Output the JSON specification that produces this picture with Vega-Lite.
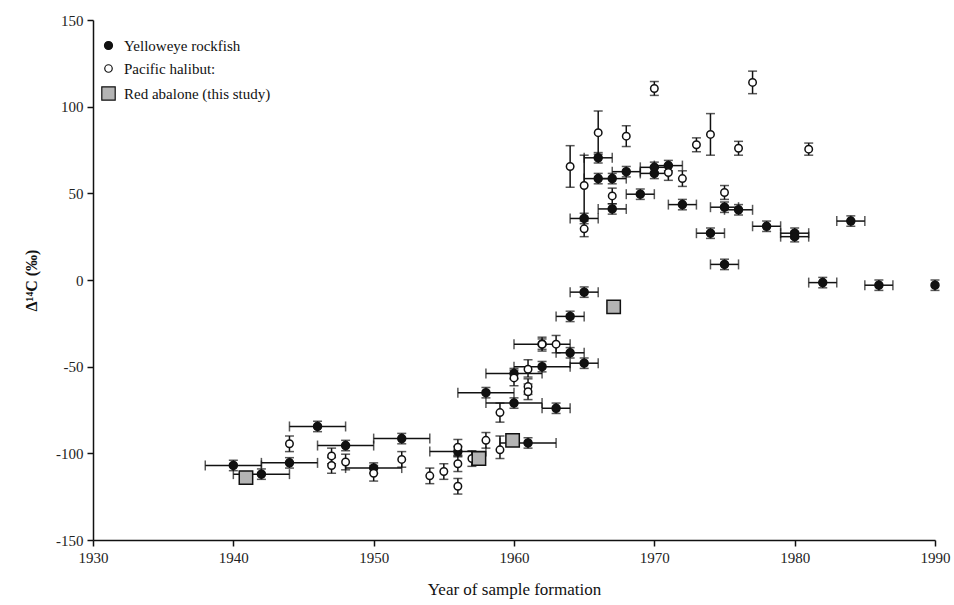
{
  "$schema": "https://vega.github.io/schema/vega-lite/v6.json",
  "width": 842,
  "height": 520,
  "autosize": "none",
  "padding": {"left": 93, "top": 20, "right": 19, "bottom": 65},
  "background": "white",
  "config": {
    "view": {"stroke": null},
    "font": "Liberation Serif",
    "axis": {"grid": false, "labelFlush": false, "labelOverlap": false, "domainColor": "#111", "domainWidth": 1.5, "tickColor": "#111", "tickWidth": 1.5, "tickSize": 6, "labelFont": "Liberation Serif", "labelFontSize": 15, "labelColor": "#222", "titleFont": "Liberation Serif", "titleColor": "#111"}
  },
  "datasets": {
    "pts": [
      {"s": "Yelloweye rockfish", "yr": 1940, "v": -107, "xlo": 1938, "xhi": 1942, "ylo": -110, "yhi": -104},
      {"s": "Yelloweye rockfish", "yr": 1942, "v": -112, "xlo": 1940, "xhi": 1944, "ylo": -115, "yhi": -109},
      {"s": "Yelloweye rockfish", "yr": 1944, "v": -105.5, "xlo": 1942, "xhi": 1946, "ylo": -108.5, "yhi": -102.5},
      {"s": "Yelloweye rockfish", "yr": 1946, "v": -84.5, "xlo": 1944, "xhi": 1948, "ylo": -87.5, "yhi": -81.5},
      {"s": "Yelloweye rockfish", "yr": 1948, "v": -95.5, "xlo": 1946, "xhi": 1950, "ylo": -98.5, "yhi": -92.5},
      {"s": "Yelloweye rockfish", "yr": 1950, "v": -108.5, "xlo": 1948, "xhi": 1952, "ylo": -111.5, "yhi": -105.5},
      {"s": "Yelloweye rockfish", "yr": 1952, "v": -91.5, "xlo": 1950, "xhi": 1954, "ylo": -94.5, "yhi": -88.5},
      {"s": "Yelloweye rockfish", "yr": 1956, "v": -99, "xlo": 1954, "xhi": 1958, "ylo": -102, "yhi": -96},
      {"s": "Yelloweye rockfish", "yr": 1958, "v": -65, "xlo": 1956, "xhi": 1960, "ylo": -68, "yhi": -62},
      {"s": "Yelloweye rockfish", "yr": 1960, "v": -71, "xlo": 1958, "xhi": 1962, "ylo": -74, "yhi": -68},
      {"s": "Yelloweye rockfish", "yr": 1960, "v": -54, "xlo": 1958, "xhi": 1962, "ylo": -57, "yhi": -51},
      {"s": "Yelloweye rockfish", "yr": 1961, "v": -94, "xlo": 1959, "xhi": 1963, "ylo": -97, "yhi": -91},
      {"s": "Yelloweye rockfish", "yr": 1962, "v": -50, "xlo": 1960, "xhi": 1964, "ylo": -53, "yhi": -47},
      {"s": "Yelloweye rockfish", "yr": 1962, "v": -37, "xlo": 1960, "xhi": 1964, "ylo": -40, "yhi": -34},
      {"s": "Yelloweye rockfish", "yr": 1963, "v": -74, "xlo": 1962, "xhi": 1964, "ylo": -77, "yhi": -71},
      {"s": "Yelloweye rockfish", "yr": 1964, "v": -42, "xlo": 1963, "xhi": 1965, "ylo": -45, "yhi": -39},
      {"s": "Yelloweye rockfish", "yr": 1965, "v": -48, "xlo": 1964, "xhi": 1966, "ylo": -51, "yhi": -45},
      {"s": "Yelloweye rockfish", "yr": 1964, "v": -21, "xlo": 1963, "xhi": 1965, "ylo": -24, "yhi": -18},
      {"s": "Yelloweye rockfish", "yr": 1965, "v": -7, "xlo": 1964, "xhi": 1966, "ylo": -10, "yhi": -4},
      {"s": "Yelloweye rockfish", "yr": 1965, "v": 35.5, "xlo": 1964, "xhi": 1966, "ylo": 32.5, "yhi": 38.5},
      {"s": "Yelloweye rockfish", "yr": 1966, "v": 70.5, "xlo": 1965, "xhi": 1967, "ylo": 67.5, "yhi": 73.5},
      {"s": "Yelloweye rockfish", "yr": 1966, "v": 58.5, "xlo": 1965, "xhi": 1967, "ylo": 55.5, "yhi": 61.5},
      {"s": "Yelloweye rockfish", "yr": 1967, "v": 58.5, "xlo": 1966, "xhi": 1968, "ylo": 55.5, "yhi": 61.5},
      {"s": "Yelloweye rockfish", "yr": 1967, "v": 41, "xlo": 1966, "xhi": 1968, "ylo": 38, "yhi": 44},
      {"s": "Yelloweye rockfish", "yr": 1968, "v": 62.5, "xlo": 1967, "xhi": 1969, "ylo": 59.5, "yhi": 65.5},
      {"s": "Yelloweye rockfish", "yr": 1969, "v": 49.5, "xlo": 1968, "xhi": 1970, "ylo": 46.5, "yhi": 52.5},
      {"s": "Yelloweye rockfish", "yr": 1970, "v": 65, "xlo": 1969, "xhi": 1971, "ylo": 62, "yhi": 68},
      {"s": "Yelloweye rockfish", "yr": 1970, "v": 61.5, "xlo": 1969, "xhi": 1971, "ylo": 58.5, "yhi": 64.5},
      {"s": "Yelloweye rockfish", "yr": 1971, "v": 66, "xlo": 1970, "xhi": 1972, "ylo": 63, "yhi": 69},
      {"s": "Yelloweye rockfish", "yr": 1972, "v": 43.5, "xlo": 1971, "xhi": 1973, "ylo": 40.5, "yhi": 46.5},
      {"s": "Yelloweye rockfish", "yr": 1974, "v": 27, "xlo": 1973, "xhi": 1975, "ylo": 24, "yhi": 30},
      {"s": "Yelloweye rockfish", "yr": 1975, "v": 42, "xlo": 1974, "xhi": 1976, "ylo": 39, "yhi": 45},
      {"s": "Yelloweye rockfish", "yr": 1975, "v": 9, "xlo": 1974, "xhi": 1976, "ylo": 6, "yhi": 12},
      {"s": "Yelloweye rockfish", "yr": 1976, "v": 40.5, "xlo": 1975, "xhi": 1977, "ylo": 37.5, "yhi": 43.5},
      {"s": "Yelloweye rockfish", "yr": 1978, "v": 31, "xlo": 1977, "xhi": 1979, "ylo": 28, "yhi": 34},
      {"s": "Yelloweye rockfish", "yr": 1980, "v": 27, "xlo": 1979, "xhi": 1981, "ylo": 24, "yhi": 30},
      {"s": "Yelloweye rockfish", "yr": 1980, "v": 25, "xlo": 1979, "xhi": 1981, "ylo": 22, "yhi": 28},
      {"s": "Yelloweye rockfish", "yr": 1982, "v": -1.5, "xlo": 1981, "xhi": 1983, "ylo": -4.5, "yhi": 1.5},
      {"s": "Yelloweye rockfish", "yr": 1984, "v": 34, "xlo": 1983, "xhi": 1985, "ylo": 31, "yhi": 37},
      {"s": "Yelloweye rockfish", "yr": 1986, "v": -3, "xlo": 1985, "xhi": 1987, "ylo": -6, "yhi": 0},
      {"s": "Yelloweye rockfish", "yr": 1990, "v": -3, "ylo": -6, "yhi": 0},
      {"s": "Pacific halibut:", "yr": 1944, "v": -94.5, "ylo": -99, "yhi": -90},
      {"s": "Pacific halibut:", "yr": 1947, "v": -101.5, "ylo": -106, "yhi": -97},
      {"s": "Pacific halibut:", "yr": 1947, "v": -107, "ylo": -111.5, "yhi": -102.5},
      {"s": "Pacific halibut:", "yr": 1948, "v": -105, "ylo": -109.5, "yhi": -100.5},
      {"s": "Pacific halibut:", "yr": 1950, "v": -111.5, "ylo": -116, "yhi": -107},
      {"s": "Pacific halibut:", "yr": 1952, "v": -103.5, "ylo": -108, "yhi": -99},
      {"s": "Pacific halibut:", "yr": 1954, "v": -113, "ylo": -117.5, "yhi": -108.5},
      {"s": "Pacific halibut:", "yr": 1955, "v": -110.5, "ylo": -115, "yhi": -106},
      {"s": "Pacific halibut:", "yr": 1956, "v": -96.5, "ylo": -101, "yhi": -92},
      {"s": "Pacific halibut:", "yr": 1956, "v": -106, "ylo": -110.5, "yhi": -101.5},
      {"s": "Pacific halibut:", "yr": 1956, "v": -119, "ylo": -123.5, "yhi": -114.5},
      {"s": "Pacific halibut:", "yr": 1957, "v": -103, "ylo": -107.5, "yhi": -98.5},
      {"s": "Pacific halibut:", "yr": 1958, "v": -92.5, "ylo": -97, "yhi": -88},
      {"s": "Pacific halibut:", "yr": 1959, "v": -98, "ylo": -103, "yhi": -90},
      {"s": "Pacific halibut:", "yr": 1959, "v": -76.5, "ylo": -82, "yhi": -71},
      {"s": "Pacific halibut:", "yr": 1960, "v": -56.5, "ylo": -61, "yhi": -52},
      {"s": "Pacific halibut:", "yr": 1961, "v": -51.5, "ylo": -56, "yhi": -46},
      {"s": "Pacific halibut:", "yr": 1961, "v": -61.5, "ylo": -66, "yhi": -57},
      {"s": "Pacific halibut:", "yr": 1961, "v": -64.5, "ylo": -69, "yhi": -60},
      {"s": "Pacific halibut:", "yr": 1962, "v": -37, "ylo": -41, "yhi": -33},
      {"s": "Pacific halibut:", "yr": 1963, "v": -37, "ylo": -42, "yhi": -32},
      {"s": "Pacific halibut:", "yr": 1964, "v": 65.5, "ylo": 53.5, "yhi": 77.5},
      {"s": "Pacific halibut:", "yr": 1965, "v": 54.5, "ylo": 36, "yhi": 72},
      {"s": "Pacific halibut:", "yr": 1965, "v": 29.5, "ylo": 25, "yhi": 34},
      {"s": "Pacific halibut:", "yr": 1966, "v": 85, "ylo": 72.5, "yhi": 97.5},
      {"s": "Pacific halibut:", "yr": 1967, "v": 48.5, "ylo": 44, "yhi": 53},
      {"s": "Pacific halibut:", "yr": 1968, "v": 83, "ylo": 77, "yhi": 89},
      {"s": "Pacific halibut:", "yr": 1970, "v": 110.5, "ylo": 106.5, "yhi": 114.5},
      {"s": "Pacific halibut:", "yr": 1971, "v": 62, "ylo": 57.5, "yhi": 66.5},
      {"s": "Pacific halibut:", "yr": 1972, "v": 58.5, "ylo": 54, "yhi": 63},
      {"s": "Pacific halibut:", "yr": 1973, "v": 78, "ylo": 74, "yhi": 82},
      {"s": "Pacific halibut:", "yr": 1974, "v": 84, "ylo": 72, "yhi": 96},
      {"s": "Pacific halibut:", "yr": 1975, "v": 50.5, "ylo": 46.5, "yhi": 54.5},
      {"s": "Pacific halibut:", "yr": 1976, "v": 76, "ylo": 72, "yhi": 80},
      {"s": "Pacific halibut:", "yr": 1977, "v": 114, "ylo": 107.5, "yhi": 120.5},
      {"s": "Pacific halibut:", "yr": 1981, "v": 75.5, "ylo": 72, "yhi": 79},
      {"s": "Red abalone (this study)", "yr": 1940.9, "v": -114},
      {"s": "Red abalone (this study)", "yr": 1957.5, "v": -103},
      {"s": "Red abalone (this study)", "yr": 1959.9, "v": -92.5},
      {"s": "Red abalone (this study)", "yr": 1967.1, "v": -15.5}
    ]
  },
  "data": {"name": "pts"},
  "layer": [
    {
      "transform": [{"filter": "isValid(datum.xlo)"}],
      "mark": {"type": "rule", "color": "#111", "strokeWidth": 1.5},
      "encoding": {
        "x": {"field": "xlo", "type": "quantitative"},
        "x2": {"field": "xhi"},
        "y": {"field": "v", "type": "quantitative"}
      }
    },
    {
      "transform": [{"filter": "isValid(datum.xlo)"}],
      "mark": {"type": "tick", "orient": "vertical", "color": "#111", "size": 10, "thickness": 1.5},
      "encoding": {
        "x": {"field": "xlo", "type": "quantitative"},
        "y": {"field": "v", "type": "quantitative"}
      }
    },
    {
      "transform": [{"filter": "isValid(datum.xhi)"}],
      "mark": {"type": "tick", "orient": "vertical", "color": "#111", "size": 10, "thickness": 1.5},
      "encoding": {
        "x": {"field": "xhi", "type": "quantitative"},
        "y": {"field": "v", "type": "quantitative"}
      }
    },
    {
      "transform": [{"filter": "isValid(datum.ylo)"}],
      "mark": {"type": "rule", "color": "#111", "strokeWidth": 1.5},
      "encoding": {
        "x": {"field": "yr", "type": "quantitative"},
        "y": {"field": "ylo", "type": "quantitative"},
        "y2": {"field": "yhi"}
      }
    },
    {
      "transform": [{"filter": "isValid(datum.ylo)"}],
      "mark": {"type": "tick", "orient": "horizontal", "color": "#111", "size": 9, "thickness": 1.5},
      "encoding": {
        "x": {"field": "yr", "type": "quantitative"},
        "y": {"field": "ylo", "type": "quantitative"}
      }
    },
    {
      "transform": [{"filter": "isValid(datum.yhi)"}],
      "mark": {"type": "tick", "orient": "horizontal", "color": "#111", "size": 9, "thickness": 1.5},
      "encoding": {
        "x": {"field": "yr", "type": "quantitative"},
        "y": {"field": "yhi", "type": "quantitative"}
      }
    },
    {
      "mark": {"type": "point", "filled": true, "stroke": "#111", "strokeWidth": 1.5, "opacity": 1},
      "encoding": {
        "x": {
          "field": "yr", "type": "quantitative",
          "scale": {"domain": [1930, 1990], "nice": false, "zero": false},
          "axis": {"values": [1930, 1940, 1950, 1960, 1970, 1980, 1990], "format": "d", "title": "Year of sample formation", "titleFontSize": 17, "titleFontWeight": "normal", "titlePadding": 16, "labelPadding": 4}
        },
        "y": {
          "field": "v", "type": "quantitative",
          "scale": {"domain": [-150, 150], "nice": false, "zero": false},
          "axis": {"values": [-150, -100, -50, 0, 50, 100, 150], "labelExpr": "'' + datum.value", "title": "Δ¹⁴C (‰)", "titleFontSize": 16, "titleFontWeight": "bold", "titlePadding": 16, "labelPadding": 4}
        },
        "fill": {
          "field": "s", "type": "nominal",
          "scale": {"domain": ["Yelloweye rockfish", "Pacific halibut:", "Red abalone (this study)"], "range": ["#111111", "#ffffff", "#b4b4b4"]},
          "legend": {
            "title": null, "orient": "none", "legendX": 8, "legendY": 18,
            "labelFont": "Liberation Serif", "labelFontSize": 15, "labelColor": "#111",
            "rowPadding": 7, "symbolStrokeColor": "#111", "symbolStrokeWidth": 1.2, "labelOffset": 8
          }
        },
        "shape": {
          "field": "s", "type": "nominal",
          "scale": {"domain": ["Yelloweye rockfish", "Pacific halibut:", "Red abalone (this study)"], "range": ["circle", "circle", "square"]}
        },
        "size": {
          "field": "s", "type": "nominal",
          "scale": {"type": "ordinal", "domain": ["Yelloweye rockfish", "Pacific halibut:", "Red abalone (this study)"], "range": [64, 56, 180]}
        }
      }
    }
  ]
}
